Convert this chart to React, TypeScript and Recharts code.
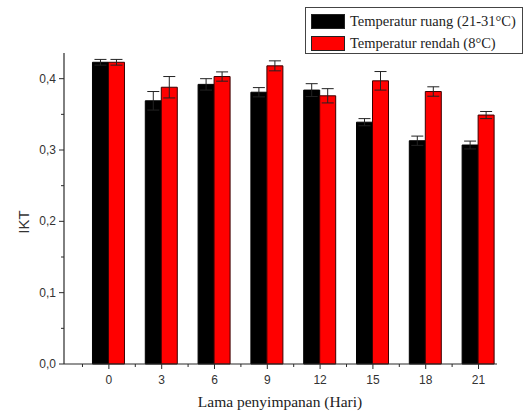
import { Bar, BarChart, ErrorBar, XAxis, YAxis } from "recharts";

const days = [0, 3, 6, 9, 12, 15, 18, 21];
const ruang = [0.423, 0.369, 0.392, 0.381, 0.384, 0.339, 0.313, 0.307];
const ruangErr = [0.004, 0.013, 0.008, 0.0065, 0.009, 0.005, 0.0065, 0.0055];
const rendah = [0.423, 0.388, 0.403, 0.418, 0.376, 0.397, 0.382, 0.349];
const rendahErr = [0.004, 0.015, 0.0065, 0.007, 0.01, 0.013, 0.0066, 0.005];
const yTicks = [0, 0.05, 0.1, 0.15, 0.2, 0.25, 0.3, 0.35, 0.4];
const xTicks = [-1.5, 0, 1.5, 3, 4.5, 6, 7.5, 9, 10.5, 12, 13.5, 15, 16.5, 18, 19.5, 21];

const data = days.map((d, i) => ({
  day: d,
  ruang: ruang[i],
  ruangErr: ruangErr[i],
  rendah: rendah[i],
  rendahErr: rendahErr[i],
}));

const axisColor = "#2a2a2a";
const sans = "'Liberation Sans', Arial, sans-serif";
const serif = "'Liberation Serif', 'Times New Roman', serif";

function YTick({ x, y, payload }: any) {
  const v = payload.value;
  const major = Math.round(v * 100) % 10 === 0;
  return (
    <g>
      <line x1={x - (major ? 5 : 3)} x2={x} y1={y} y2={y} stroke={axisColor} strokeWidth={1} />
      {major ? (
        <text x={x - 8} y={y + 4} textAnchor="end" fontSize={12} fill="#333" style={{ fontFamily: sans }}>
          {v.toFixed(1).replace(".", ",")}
        </text>
      ) : null}
    </g>
  );
}

function XTick({ x, y, payload }: any) {
  const v = payload.value;
  const major = Number.isInteger(v);
  return (
    <g>
      <line x1={x} x2={x} y1={y} y2={y + (major ? 5 : 3)} stroke={axisColor} strokeWidth={1} />
      {major ? (
        <text x={x} y={y + 20} textAnchor="middle" fontSize={12} fill="#333" style={{ fontFamily: sans }}>
          {v}
        </text>
      ) : null}
    </g>
  );
}

function LegendBox() {
  const row = (color: string, text: string) => (
    <div style={{ display: "flex", alignItems: "center", height: 22 }}>
      <span
        style={{
          display: "inline-block",
          width: 32,
          height: 13,
          background: color,
          border: "1px solid #222",
          marginRight: 5,
        }}
      />
      <span style={{ fontFamily: serif, fontSize: 14.5, color: "#222", whiteSpace: "nowrap" }}>{text}</span>
    </div>
  );
  return (
    <div
      style={{
        position: "absolute",
        left: 305,
        top: 7,
        width: 218,
        height: 47,
        border: "1px solid #444",
        background: "#fff",
        boxSizing: "border-box",
        padding: "2px 0 0 5px",
      }}
    >
      {row("#000", "Temperatur ruang (21-31°C)")}
      {row("#ff0000", "Temperatur rendah (8°C)")}
    </div>
  );
}

export default function App() {
  return (
    <div style={{ position: "absolute", left: 0, top: 0, width: 529, height: 414, background: "#fff" }}>
      <BarChart
        width={529}
        height={414}
        data={data}
        barGap={0}
        margin={{ top: 53, right: 32, bottom: 20, left: 0 }}
      >
        <XAxis
          dataKey="day"
          type="number"
          domain={[-2.55, 22.05]}
          ticks={xTicks}
          interval={0}
          height={30}
          tickSize={0}
          tickMargin={0}
          tickLine={false}
          tick={<XTick />}
          axisLine={{ stroke: axisColor, strokeWidth: 1.2 }}
        />
        <YAxis
          type="number"
          domain={[0, 0.436]}
          ticks={yTicks}
          interval={0}
          width={64}
          tickSize={0}
          tickMargin={0}
          tickLine={false}
          tick={<YTick />}
          axisLine={{ stroke: axisColor, strokeWidth: 1.2 }}
          label={() => (
            <text
              x={29}
              y={222}
              transform="rotate(-90 29 222)"
              textAnchor="middle"
              fontSize={15}
              fill="#333"
              style={{ fontFamily: sans }}
            >
              IKT
            </text>
          )}
        />
        <Bar dataKey="ruang" fill="#000" stroke="#000" barSize={16} isAnimationActive={false}>
          <ErrorBar dataKey="ruangErr" width={6} stroke="#222" strokeWidth={1} direction="y" />
        </Bar>
        <Bar dataKey="rendah" fill="#ff0000" stroke="#3a0000" strokeWidth={1} barSize={16} isAnimationActive={false}>
          <ErrorBar dataKey="rendahErr" width={6} stroke="#222" strokeWidth={1} direction="y" />
        </Bar>
      </BarChart>
      <LegendBox />
      <div
        style={{
          position: "absolute",
          left: 180,
          width: 200,
          top: 393,
          textAlign: "center",
          fontFamily: serif,
          fontSize: 15.5,
          color: "#222",
          whiteSpace: "nowrap",
        }}
      >
        Lama penyimpanan (Hari)
      </div>
    </div>
  );
}
